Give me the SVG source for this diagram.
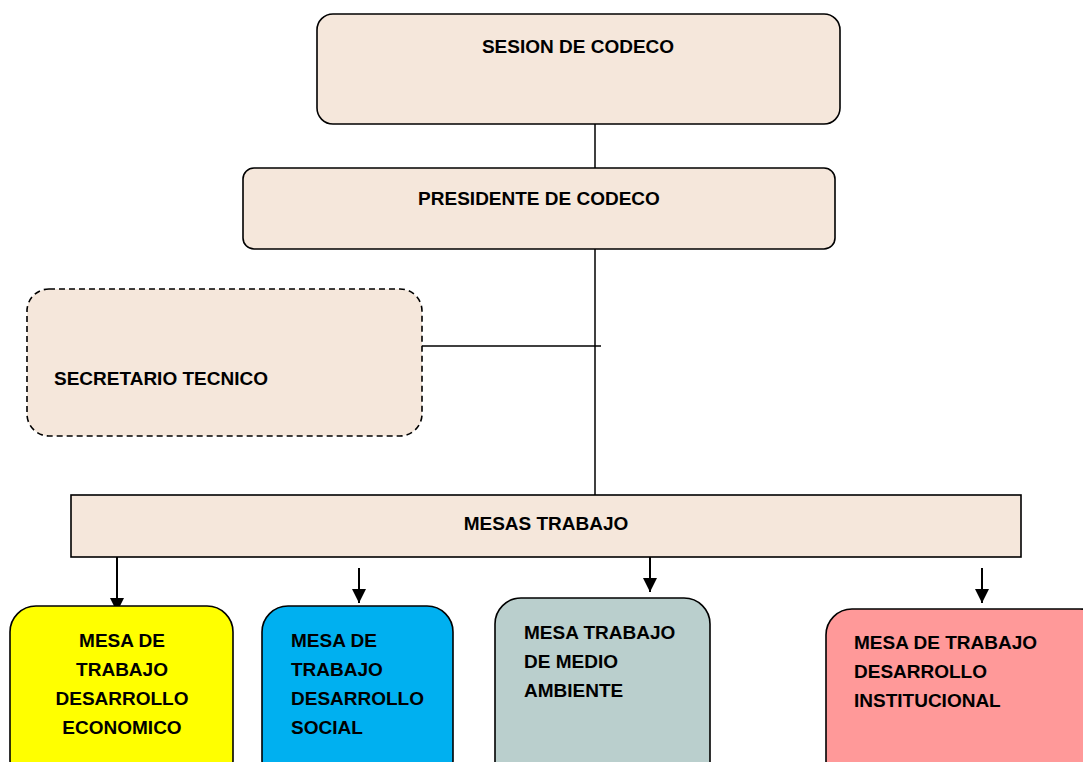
<svg xmlns="http://www.w3.org/2000/svg" width="1083" height="762" viewBox="0 0 1083 762">
<defs>
<marker id="ah" markerUnits="userSpaceOnUse" markerWidth="16" markerHeight="16" refX="8" refY="14" orient="auto-start-reverse" viewBox="0 0 16 16">
<path d="M1,0 L15,0 L8,14 Z" fill="#000" transform="rotate(-90 8 8)"/>
</marker>
<marker id="arr" markerUnits="userSpaceOnUse" markerWidth="16" markerHeight="16" refX="14" refY="8" orient="auto" viewBox="0 0 16 16">
<path d="M0,1 L14,8 L0,15 Z" fill="#000"/>
</marker>
<style>
.box{stroke:#000;stroke-width:1.6}
.peach{fill:#F5E7DB}
.t{font-family:"Liberation Sans",Arial,sans-serif;font-weight:bold;font-size:19px;fill:#000}
.line{stroke:#000;stroke-width:1.5;fill:none}
.arrow{stroke:#000;stroke-width:2;fill:none;marker-end:url(#arr)}
</style>
</defs>
<rect width="1083" height="762" fill="#fff"/>
<g id="connectors">
<line class="line" x1="595" y1="124" x2="595" y2="168"/>
<line class="line" x1="595" y1="249" x2="595" y2="495"/>
<line class="line" x1="422" y1="346" x2="601" y2="346"/>
<line class="arrow" x1="117" y1="557" x2="117" y2="612"/>
<line class="arrow" x1="359" y1="568" x2="359" y2="603"/>
<line class="arrow" x1="650" y1="557" x2="650" y2="592"/>
<line class="arrow" x1="982" y1="568" x2="982" y2="603"/>
</g>
<g id="sesion">
<rect class="box peach" x="317" y="14" width="523" height="110" rx="16"/>
<text class="t" x="578" y="53" text-anchor="middle">SESION DE CODECO</text>
</g>
<g id="presidente">
<rect class="box peach" x="243" y="168" width="592" height="81" rx="11"/>
<text class="t" x="539" y="205" text-anchor="middle">PRESIDENTE DE CODECO</text>
</g>
<g id="secretario">
<rect class="box peach" x="27" y="289" width="395" height="147" rx="22" stroke-dasharray="6,4"/>
<text class="t" x="54" y="385">SECRETARIO TECNICO</text>
</g>
<g id="mesas">
<rect class="box peach" x="71" y="495" width="950" height="62"/>
<text class="t" x="546" y="530" text-anchor="middle">MESAS TRABAJO</text>
</g>
<g id="economico">
<rect class="box" x="10" y="606" width="223" height="180" rx="26" fill="#FFFF00"/>
<text class="t" text-anchor="middle"><tspan x="122" y="647">MESA DE</tspan><tspan x="122" y="676">TRABAJO</tspan><tspan x="122" y="705">DESARROLLO</tspan><tspan x="122" y="734">ECONOMICO</tspan></text>
</g>
<g id="social">
<rect class="box" x="262" y="606" width="191" height="180" rx="26" fill="#00B0F0"/>
<text class="t"><tspan x="291" y="647">MESA DE</tspan><tspan x="291" y="676">TRABAJO</tspan><tspan x="291" y="705">DESARROLLO</tspan><tspan x="291" y="734">SOCIAL</tspan></text>
</g>
<g id="ambiente">
<rect class="box" x="495" y="598" width="215" height="190" rx="26" fill="#BACFCD"/>
<text class="t"><tspan x="524" y="639">MESA TRABAJO</tspan><tspan x="524" y="668">DE MEDIO</tspan><tspan x="524" y="697">AMBIENTE</tspan></text>
</g>
<g id="institucional">
<rect class="box" x="826" y="609" width="280" height="180" rx="26" fill="#FF9999"/>
<text class="t"><tspan x="854" y="649">MESA DE TRABAJO</tspan><tspan x="854" y="678">DESARROLLO</tspan><tspan x="854" y="707">INSTITUCIONAL</tspan></text>
</g>
</svg>
